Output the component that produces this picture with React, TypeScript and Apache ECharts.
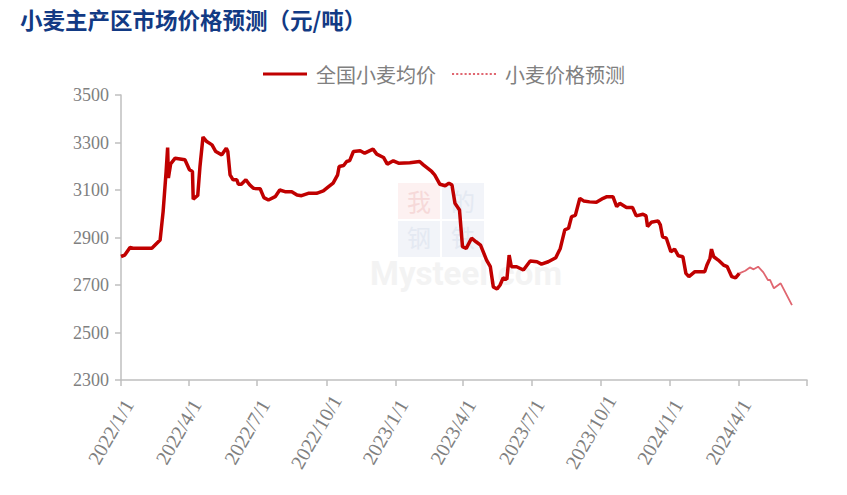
import React, { useEffect, useRef } from "react";
import * as echarts from "echarts";

const TITLE = "小麦主产区市场价格预测（元/吨）";
const SERIES_ACTUAL = "全国小麦均价";
const SERIES_FORECAST = "小麦价格预测";

const actualDates = [
  "2022/1/1", "2022/1/6", "2022/1/13", "2022/1/17", "2022/2/11", "2022/2/22", "2022/2/26", "2022/3/2", "2022/3/4", "2022/3/5",
  "2022/3/8", "2022/3/14", "2022/3/27", "2022/4/2", "2022/4/6", "2022/4/7", "2022/4/12", "2022/4/13", "2022/4/16", "2022/4/20",
  "2022/4/25", "2022/5/2", "2022/5/7", "2022/5/15", "2022/5/21", "2022/5/23", "2022/5/26", "2022/5/30", "2022/6/4", "2022/6/6",
  "2022/6/10", "2022/6/16", "2022/6/21", "2022/6/26", "2022/7/5", "2022/7/10", "2022/7/16", "2022/7/25", "2022/7/31", "2022/8/7",
  "2022/8/16", "2022/8/23", "2022/8/29", "2022/9/7", "2022/9/18", "2022/9/27", "2022/10/4", "2022/10/10", "2022/10/16", "2022/10/18",
  "2022/10/24", "2022/10/28", "2022/11/1", "2022/11/6", "2022/11/15", "2022/11/21", "2022/12/2", "2022/12/7", "2022/12/16", "2022/12/21",
  "2022/12/29", "2023/1/5", "2023/1/20", "2023/2/2", "2023/2/7", "2023/2/18", "2023/2/22", "2023/3/1", "2023/3/8", "2023/3/13",
  "2023/3/17", "2023/3/21", "2023/3/27", "2023/3/31", "2023/4/5", "2023/4/12", "2023/4/18", "2023/4/24", "2023/5/2", "2023/5/7",
  "2023/5/11", "2023/5/16", "2023/5/20", "2023/5/24", "2023/5/29", "2023/6/1", "2023/6/4", "2023/6/11", "2023/6/20", "2023/6/29",
  "2023/7/8", "2023/7/14", "2023/7/23", "2023/8/2", "2023/8/8", "2023/8/14", "2023/8/19", "2023/8/23", "2023/8/28", "2023/9/3",
  "2023/9/8", "2023/9/16", "2023/9/25", "2023/10/4", "2023/10/9", "2023/10/17", "2023/10/22", "2023/10/26", "2023/11/4", "2023/11/12",
  "2023/11/17", "2023/11/26", "2023/11/30", "2023/12/2", "2023/12/7", "2023/12/16", "2023/12/19", "2023/12/22", "2023/12/27", "2024/1/2",
  "2024/1/7", "2024/1/12", "2024/1/18", "2024/1/22", "2024/1/26", "2024/2/3", "2024/2/16", "2024/2/19", "2024/2/23", "2024/2/25",
  "2024/2/28", "2024/3/5", "2024/3/12", "2024/3/17", "2024/3/23", "2024/3/28", "2024/4/2",
];
const actualValues = [
  2820, 2826, 2858, 2855, 2855, 2889, 3009, 3178, 3279, 3151,
  3210, 3234, 3227, 3185, 3178, 3061, 3075, 3075, 3199, 3323,
  3304, 3290, 3262, 3248, 3276, 3262, 3164, 3143, 3143, 3124,
  3124, 3143, 3122, 3107, 3105, 3068, 3058, 3072, 3100, 3093,
  3093, 3079, 3076, 3086, 3086, 3096, 3114, 3129, 3164, 3199,
  3203, 3220, 3224, 3262, 3265, 3255, 3272, 3251, 3237, 3209,
  3223, 3213, 3215, 3220, 3206, 3178, 3164, 3124, 3118, 3129,
  3121, 3044, 3016, 2861, 2854, 2897, 2882, 2868, 2805, 2777,
  2692, 2683, 2700, 2730, 2724, 2826, 2777, 2777, 2763, 2801,
  2798, 2788, 2798, 2815, 2854, 2932, 2939, 2988, 2993, 3065,
  3054, 3050, 3048, 3065, 3072, 3072, 3030, 3044, 3026, 3026,
  2991, 2998, 2991, 2946, 2964, 2970, 2953, 2903, 2897, 2840,
  2851, 2823, 2819, 2749, 2735, 2756, 2756, 2784, 2812, 2851,
  2819, 2805, 2784, 2777, 2735, 2730, 2749,
];

const forecastDates = [
  "2024/4/2", "2024/4/10", "2024/4/16", "2024/4/21", "2024/4/27", "2024/5/4", "2024/5/10", "2024/5/13", "2024/5/18", "2024/5/27", "2024/6/11",
];
const forecastValues = [2749, 2760, 2774, 2766, 2777, 2753, 2721, 2721, 2686, 2707, 2615];

const AXIS_START = "2022-01-01";
const AXIS_END = "2024-07-01";
const Y_MIN = 2300;
const Y_MAX = 3500;
const Y_STEP = 200;
const TICK_MONTHS = [1, 4, 7, 10];

function buildCategories(): string[] {
  const out: string[] = [];
  const d = new Date(AXIS_START + "T00:00:00Z");
  const end = new Date(AXIS_END + "T00:00:00Z");
  while (d.getTime() <= end.getTime()) {
    out.push(`${d.getUTCFullYear()}/${d.getUTCMonth() + 1}/${d.getUTCDate()}`);
    d.setUTCDate(d.getUTCDate() + 1);
  }
  return out;
}

const isQuarterStart = (v: string) => {
  const p = v.split("/");
  return p[2] === "1" && TICK_MONTHS.includes(Number(p[1]));
};

const DOTTED_ICON =
  "path://" +
  Array.from({ length: 11 }, (_, i) => `M${i * 4},0h2v2h-2z`).join(" ");

export default function App() {
  const ref = useRef<HTMLDivElement>(null);
  useEffect(() => {
    if (!ref.current) return;
    const chart = echarts.init(ref.current, undefined, { renderer: "svg" });
    const categories = buildCategories();
    const lastCat = categories[categories.length - 1];
    const grey = "#bfbfbf";
    const labelColor = "#808080";
    const serif = "'Liberation Serif', 'Times New Roman', serif";
    const cjk = "'Noto Sans CJK SC', sans-serif";

    chart.setOption({
      animation: false,
      backgroundColor: "#ffffff",
      title: {
        text: TITLE,
        left: 15,
        top: 3,
        textStyle: { color: "#123a84", fontSize: 22.5, fontWeight: "bold", fontFamily: cjk },
      },
      legend: {
        left: 258,
        top: 59,
        itemWidth: 44,
        itemHeight: 14,
        itemGap: 16,
        textStyle: { color: labelColor, fontSize: 20, fontFamily: cjk, padding: [0, 0, 0, 4] },
        data: [
          { name: SERIES_ACTUAL, icon: "path://M0,0 L44,0 L44,3 L0,3 Z", itemStyle: { color: "#c00000" } },
          { name: SERIES_FORECAST, icon: DOTTED_ICON, itemStyle: { color: "#e06670" } },
        ],
      },
      grid: { left: 121, right: 40, top: 95, bottom: 115, containLabel: false },
      xAxis: {
        type: "category",
        data: categories,
        boundaryGap: false,
        axisLine: { lineStyle: { color: grey, width: 1.5 } },
        axisTick: {
          show: true,
          length: 6,
          lineStyle: { color: grey, width: 1.5 },
          interval: (_i: number, v: string) => isQuarterStart(v),
        },
        axisLabel: {
          interval: (_i: number, v: string) => isQuarterStart(v) && v !== lastCat,
          rotate: 60,
          align: "center",
          verticalAlign: "middle",
          margin: 52,
          color: labelColor,
          fontSize: 20,
          fontFamily: serif,
          formatter: (v: string) => `{d|${v}}`,
          rich: {
            d: {
              color: labelColor,
              fontSize: 20,
              fontFamily: serif,
              padding: [0, 10, 18, 0],
            },
          },
        },
        splitLine: { show: false },
      },
      yAxis: {
        type: "value",
        min: Y_MIN,
        max: Y_MAX,
        interval: Y_STEP,
        axisLine: { show: true, lineStyle: { color: grey, width: 1.5 } },
        axisTick: { show: true, length: 6, lineStyle: { color: grey, width: 1.5 } },
        axisLabel: {
          color: labelColor,
          fontSize: 18,
          fontFamily: serif,
          margin: 12,
          formatter: (v: number) => String(v),
        },
        splitLine: { show: false },
      },
      graphic: [
        { type: "rect", left: 398, top: 183, shape: { width: 42, height: 36 }, style: { fill: "#fdf1f1" }, z: -10 },
        { type: "rect", left: 442, top: 183, shape: { width: 42, height: 36 }, style: { fill: "#f2f4f9" }, z: -10 },
        { type: "rect", left: 398, top: 221, shape: { width: 42, height: 36 }, style: { fill: "#f2f4f9" }, z: -10 },
        { type: "rect", left: 442, top: 221, shape: { width: 42, height: 36 }, style: { fill: "#f2f4f9" }, z: -10 },
        { type: "text", left: 407, top: 188, style: { text: "我", fontSize: 24, fill: "#f6d9d9", fontFamily: cjk }, z: -9 },
        { type: "text", left: 451, top: 188, style: { text: "的", fontSize: 24, fill: "#e4e9f2", fontFamily: cjk }, z: -9 },
        { type: "text", left: 407, top: 224, style: { text: "钢", fontSize: 24, fill: "#e4e9f2", fontFamily: cjk }, z: -9 },
        { type: "text", left: 451, top: 224, style: { text: "铁", fontSize: 24, fill: "#e4e9f2", fontFamily: cjk }, z: -9 },
        { type: "text", left: 370, top: 257, style: { text: "Mysteel.com", fontSize: 33, fontWeight: "bold", fill: "#f3f3f3", fontFamily: "Roboto, sans-serif" }, z: -9 },
      ],
      series: [
        {
          name: SERIES_ACTUAL,
          type: "line",
          data: actualDates.map((d, i) => [d, actualValues[i]]),
          showSymbol: false,
          symbol: "none",
          lineStyle: { color: "#c00000", width: 3.5 },
          itemStyle: { color: "#c00000" },
          z: 3,
        },
        {
          name: SERIES_FORECAST,
          type: "line",
          data: forecastDates.map((d, i) => [d, forecastValues[i]]),
          showSymbol: false,
          symbol: "none",
          lineStyle: { color: "#e06670", width: 1.8 },
          itemStyle: { color: "#e06670" },
          z: 2,
        },
      ],
    });
    return () => chart.dispose();
  }, []);
  return (
    <div
      ref={ref}
      style={{ position: "fixed", left: 0, top: 0, width: 847, height: 495 }}
    />
  );
}
